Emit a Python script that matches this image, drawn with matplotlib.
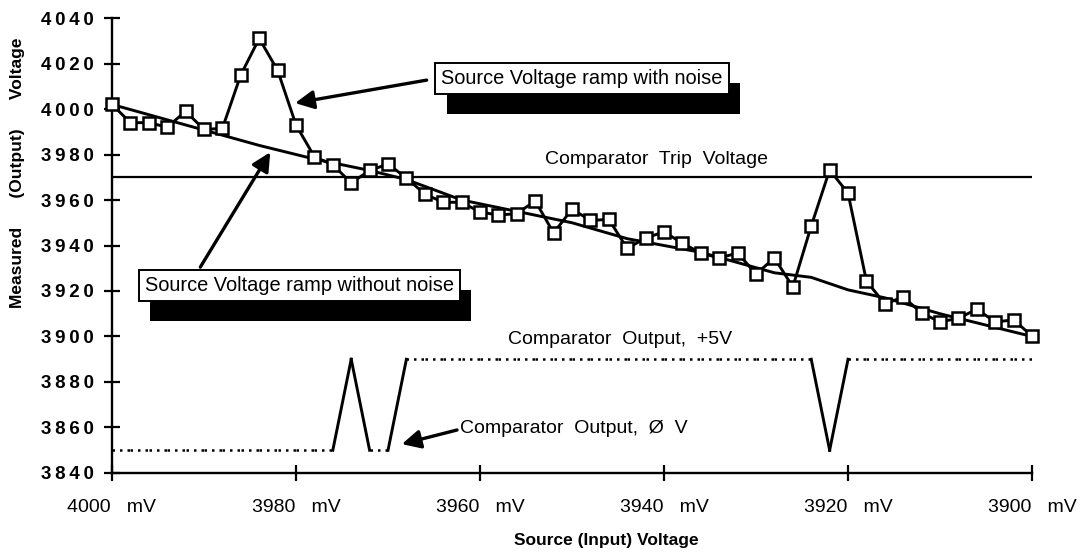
import matplotlib
matplotlib.use("Agg")
import matplotlib.pyplot as plt
import matplotlib.patheffects as pe

plt.rcParams['font.family'] = ['Liberation Sans', 'DejaVu Sans']

# source voltage steps (mV), one sample every 2 mV
src_mv = [4000, 3998, 3996, 3994, 3992, 3990, 3988, 3986, 3984, 3982,
          3980, 3978, 3976, 3974, 3972, 3970, 3968, 3966, 3964, 3962,
          3960, 3958, 3956, 3954, 3952, 3950, 3948, 3946, 3944, 3942,
          3940, 3938, 3936, 3934, 3932, 3930, 3928, 3926, 3924, 3922,
          3920, 3918, 3916, 3914, 3912, 3910, 3908, 3906, 3904, 3902, 3900]

# measured voltage with noise
noisy = [4002, 3994, 3994, 3992, 3999, 3991, 3991.5, 4015, 4031, 4017,
         3993, 3979, 3975.5, 3967.5, 3973, 3975.8, 3969.7, 3962.6, 3959, 3959,
         3954.7, 3953.4, 3954, 3959.6, 3945.5, 3956, 3951, 3951.5, 3938.7, 3943.3,
         3946, 3941, 3936.7, 3934.5, 3936.7, 3927.5, 3934.5, 3921.8, 3948.6, 3973.2,
         3963, 3924.4, 3914.3, 3917.4, 3910.3, 3906.4, 3908, 3912, 3906.4, 3907.3, 3900.2]

# comparator output drawn at 3850 (0 V) / 3890 (+5V)
comp = [3850, 3850, 3850, 3850, 3850, 3850, 3850, 3850, 3850, 3850,
        3850, 3850, 3850, 3890, 3850, 3850, 3890, 3890, 3890, 3890,
        3890, 3890, 3890, 3890, 3890, 3890, 3890, 3890, 3890, 3890,
        3890, 3890, 3890, 3890, 3890, 3890, 3890, 3890, 3890, 3850,
        3890, 3890, 3890, 3890, 3890, 3890, 3890, 3890, 3890, 3890, 3890]

# ramp without noise
ramp_mv = [4000, 3992, 3984, 3978, 3972, 3968, 3962, 3956, 3950, 3944,
           3936, 3928, 3924, 3920, 3916, 3910, 3904, 3900]
ramp = [4002, 3993, 3984, 3978, 3973, 3969, 3960, 3955, 3950, 3943,
        3937, 3928, 3926, 3920.5, 3917, 3910, 3904, 3900]

trip = 3970
xticks = [4000, 3980, 3960, 3940, 3920, 3900]
yticks = [3840, 3860, 3880, 3900, 3920, 3940, 3960, 3980, 4000, 4020, 4040]

fig = plt.figure(figsize=(10.8, 5.56), dpi=100)
ax = fig.add_axes([0.1037, 0.1493, 0.8519, 0.8183])

ax.plot(ramp_mv, ramp, color='k', lw=2.1, zorder=3)
ax.plot(src_mv, noisy, color='k', lw=2.1, marker='s', ms=8, mfc='white',
        mec='k', mew=1.8, zorder=4, clip_on=False)
ax.plot([src_mv[0], src_mv[-1]], [trip, trip], color='k', lw=1.6, zorder=2)

# comparator: flat parts dotted, switching parts solid
for i in range(len(src_mv) - 1):
    xs = [src_mv[i], src_mv[i + 1]]
    ys = [comp[i], comp[i + 1]]
    if ys[0] == ys[1]:
        ax.plot(xs, ys, color='k', lw=1.8, ls=(0, (1, 2)))
    else:
        ax.plot(xs, ys, color='k', lw=2.1)

shadow = [pe.SimplePatchShadow(offset=(8, -15), shadow_rgbFace='k', alpha=1),
          pe.Normal()]
box = dict(boxstyle='square,pad=0.3', fc='white', ec='k', lw=1.4)

t1 = ax.text(3948.9, 4013.6, 'Source Voltage ramp with noise', fontsize=14.4,
             ha='center', va='center', bbox=box, zorder=6)
t1.get_bbox_patch().set_path_effects(shadow)
t2 = ax.text(3979.6, 3922.6, 'Source Voltage ramp without noise', fontsize=14.4,
             ha='center', va='center', bbox=box, zorder=6)
t2.get_bbox_patch().set_path_effects(shadow)

arrow = dict(arrowstyle='-|>', color='k', lw=2.4, mutation_scale=28, shrinkA=0, shrinkB=0)
ax.annotate('', xy=(3980.1, 4002.6), xytext=(3965.8, 4012.7), arrowprops=arrow, zorder=5)
ax.annotate('', xy=(3982.8, 3981), xytext=(3990.4, 3930.5), arrowprops=arrow, zorder=5)
ax.annotate('', xy=(3968.5, 3852.7), xytext=(3962.5, 3858.9), arrowprops=arrow, zorder=5)

ax.text(3952.9, 3977.6, 'Comparator  Trip  Voltage', fontsize=14, ha='left', va='center')
ax.text(3957, 3898.5, 'Comparator  Output,  +5V', fontsize=14, ha='left', va='center')
ax.text(3962.2, 3859.5, 'Comparator  Output,  Ø  V', fontsize=14, ha='left', va='center')

ax.set_xlim(4000, 3900)
ax.set_ylim(3840, 4040)
ax.set_xticks(xticks)
ax.set_xticklabels([f'{v}   mV' for v in xticks], fontsize=14)
ax.set_yticks(yticks)
ax.set_yticklabels(['\u2009'.join(str(v)) for v in yticks], fontsize=13.5,
                   fontweight='bold')
ax.tick_params(direction='inout', length=12, width=1.6, pad=7)
ax.tick_params(axis='x', pad=13)
for s in ['top', 'right']:
    ax.spines[s].set_visible(False)
for s in ['left', 'bottom']:
    ax.spines[s].set_linewidth(1.7)

fig.text(0.561, 0.027, 'Source (Input) Voltage', fontsize=12.5, fontweight='bold',
         ha='center', va='center')
fig.text(0.016, 0.69, 'Measured      (Output)      Voltage', fontsize=12.5,
         fontweight='bold', ha='center', va='center', rotation=90)

fig.savefig('out.png', dpi=100)
